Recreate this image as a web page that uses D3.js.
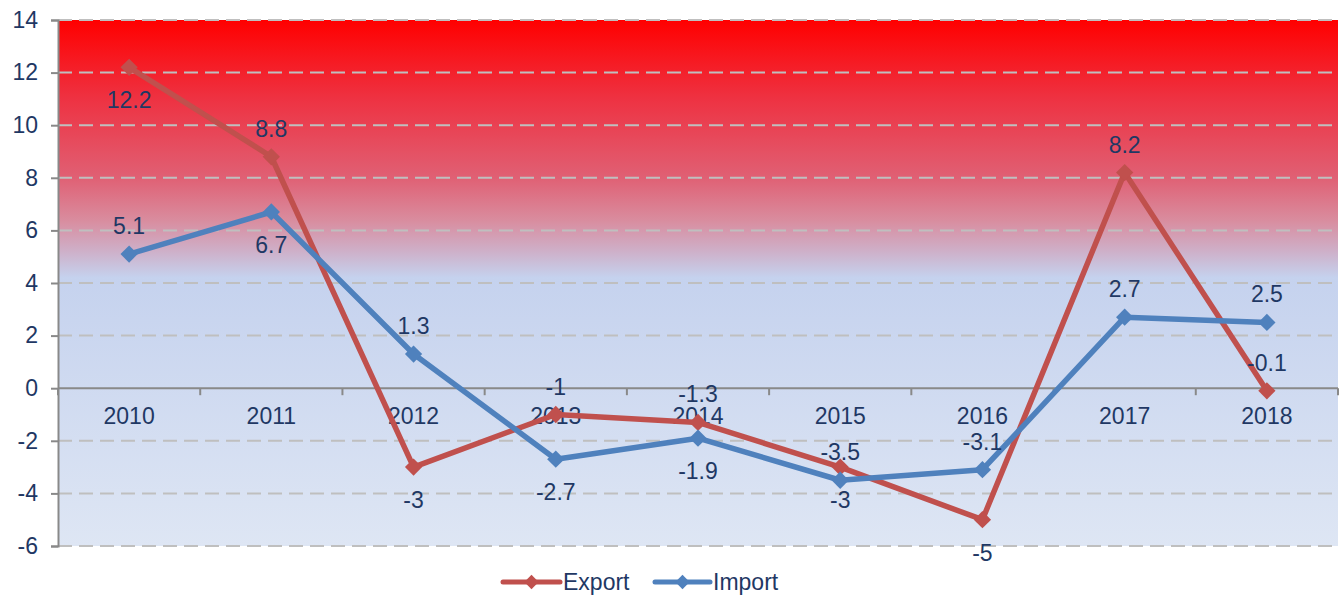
<!DOCTYPE html>
<html>
<head>
<meta charset="utf-8">
<script src="https://cdn.jsdelivr.net/npm/d3@7"></script>
<style>
  html, body { margin: 0; padding: 0; background: #fff; }
  svg { display: block; font-family: "Liberation Sans", Arial, sans-serif; }
</style>
</head>
<body>
<svg id="chart" width="1343" height="595"></svg>
<script>
const categories = ["2010", "2011", "2012", "2013", "2014", "2015", "2016", "2017", "2018"];
const exportValues = [12.2, 8.8, -3, -1, -1.3, -3, -5, 8.2, -0.1];
const importValues = [5.1, 6.7, 1.3, -2.7, -1.9, -3.5, -3.1, 2.7, 2.5];
const yTicks = [-6, -4, -2, 0, 2, 4, 6, 8, 10, 12, 14];
// label placement: "t" = above point, "b" = below point
const exportLabelPos = ["b", "t", "b", "t", "t", "b", "b", "t", "t"];
const importLabelPos = ["t", "b", "t", "b", "b", "t", "t", "t", "t"];

const series = [
  { name: "Export", values: exportValues, pos: exportLabelPos, color: "#C0504D" },
  { name: "Import", values: importValues, pos: importLabelPos, color: "#4F81BD" }
];

(function () {
const svg = d3.select("#chart");
const mLeft = 58, mRight = 1338, mTop = 20, mBottom = 546;
const textColor = "#1F3864";
const fs = "23px";

const x = d3.scaleBand().domain(categories).range([mLeft, mRight]).padding(0);
const y = d3.scaleLinear().domain([-6, 14]).range([mBottom, mTop]);

// gradient background
const defs = svg.append("defs");
const grad = defs.append("linearGradient").attr("id", "bg")
  .attr("x1", 0).attr("y1", 0).attr("x2", 0).attr("y2", 1);
[[0, "#FF0000"], [0.15, "#EE3242"], [0.3, "#E06074"], [0.38, "#D98C9E"], [0.44, "#CEB0C9"], [0.49, "#C5D2EE"], [1, "#DEE6F4"]]
  .forEach(([o, c]) => grad.append("stop").attr("offset", o).attr("stop-color", c));

svg.append("rect").attr("x", mLeft).attr("y", mTop).attr("width", mRight - mLeft).attr("height", mBottom - mTop)
  .attr("fill", "url(#bg)");

// gridlines
svg.append("g").selectAll("line").data(yTicks.filter(d => d !== 0)).join("line")
  .attr("x1", mLeft).attr("x2", mRight)
  .attr("y1", d => y(d)).attr("y2", d => y(d))
  .attr("stroke", "#BFBFBF").attr("stroke-width", 2).attr("stroke-dasharray", "14,7");

// y axis
const yAxis = d3.axisLeft(y).tickValues(yTicks).tickSize(7).tickPadding(13).tickFormat(d => String(d));
const gy = svg.append("g").attr("transform", `translate(${mLeft},0)`).call(yAxis);
gy.select(".domain").attr("stroke", "#898989").attr("stroke-width", 2);
gy.selectAll(".tick line").attr("stroke", "#898989").attr("stroke-width", 2);
gy.selectAll(".tick text").attr("fill", textColor).style("font-size", fs)
  .style("font-family", "'Liberation Sans', Arial, sans-serif");

// x axis at zero
const gx = svg.append("g").attr("transform", `translate(0,${y(0)})`);
gx.append("line").attr("x1", mLeft).attr("x2", mRight).attr("stroke", "#898989").attr("stroke-width", 2);
const bounds = categories.map(c => x(c)).concat([mRight]);
gx.selectAll("line.tk").data(bounds).join("line").attr("class", "tk")
  .attr("x1", d => d).attr("x2", d => d).attr("y1", 0).attr("y2", 7)
  .attr("stroke", "#898989").attr("stroke-width", 2);
gx.selectAll("text").data(categories).join("text")
  .attr("x", d => x(d) + x.bandwidth() / 2).attr("y", 36)
  .attr("text-anchor", "middle").attr("fill", textColor).style("font-size", fs)
  .text(d => d);

// lines
const line = d3.line().x((d, i) => x(categories[i]) + x.bandwidth() / 2).y(d => y(d));
const diamond = d3.symbol().type(d3.symbolDiamond2).size(190);

series.forEach(s => {
  const g = svg.append("g");
  g.append("path").datum(s.values).attr("d", line)
    .attr("fill", "none").attr("stroke", s.color).attr("stroke-width", 5.5).attr("stroke-linejoin", "round");
  g.selectAll("path.m").data(s.values).join("path").attr("class", "m")
    .attr("d", diamond)
    .attr("transform", (d, i) => `translate(${x(categories[i]) + x.bandwidth() / 2},${y(d)})`)
    .attr("fill", s.color);
});

// labels
series.forEach(s => {
  svg.append("g").selectAll("text").data(s.values).join("text")
    .attr("x", (d, i) => x(categories[i]) + x.bandwidth() / 2)
    .attr("y", (d, i) => y(d) + (s.pos[i] === "t" ? -20 : 41))
    .attr("text-anchor", "middle").attr("fill", textColor).style("font-size", fs)
    .text(d => d);
});

// legend
const legend = svg.append("g");
const legendItems = [{ s: series[0], x1: 503, x2: 560, tx: 563 }, { s: series[1], x1: 655, x2: 710, tx: 713 }];
legendItems.forEach(it => {
  legend.append("line").attr("x1", it.x1).attr("x2", it.x2).attr("y1", 582).attr("y2", 582)
    .attr("stroke", it.s.color).attr("stroke-width", 5).attr("stroke-linecap", "round");
  legend.append("path").attr("d", d3.symbol().type(d3.symbolDiamond2).size(130))
    .attr("transform", `translate(${(it.x1 + it.x2) / 2},582)`).attr("fill", it.s.color);
  legend.append("text").attr("x", it.tx).attr("y", 590).attr("fill", textColor)
    .style("font-size", fs).text(it.s.name);
});
})();
</script>
</body>
</html>
